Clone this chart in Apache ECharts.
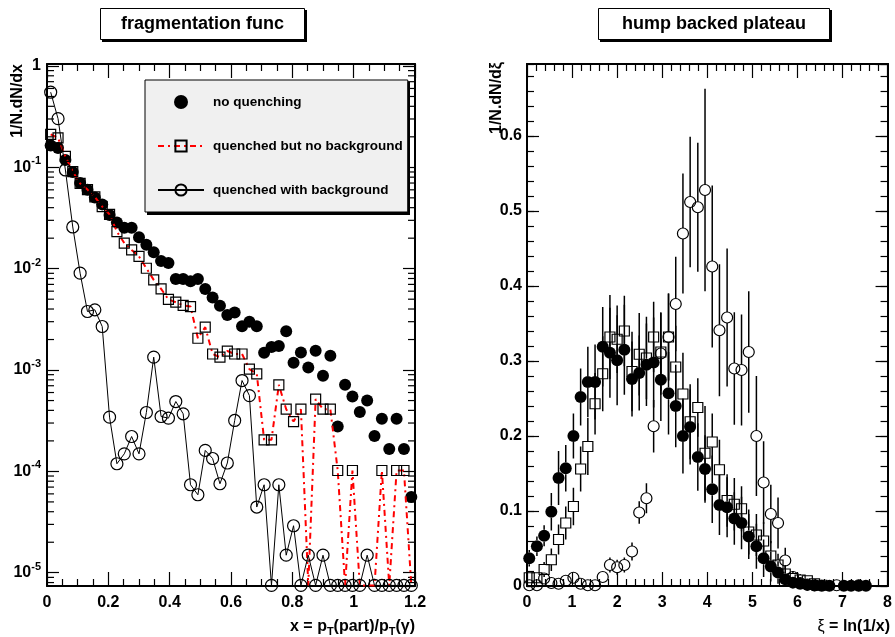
<!DOCTYPE html>
<html>
<head>
<meta charset="utf-8">
<script src="https://cdn.jsdelivr.net/npm/echarts@6/dist/echarts.min.js"></script>
<style>
  html, body { margin: 0; padding: 0; background: #fff; }
  #chart { width: 895px; height: 637px; }
</style>
</head>
<body>
<div id="chart"></div>
<script>
// ---- left pad: fragmentation function, bin centres in x = pT(part)/pT(gamma)
const fragX = [
  0.012, 0.036, 0.060, 0.084, 0.108, 0.132, 0.156, 0.180, 0.204, 0.228,
  0.252, 0.276, 0.300, 0.324, 0.348, 0.372, 0.396, 0.420, 0.444, 0.468,
  0.492, 0.516, 0.540, 0.564, 0.588, 0.612, 0.636, 0.660, 0.684, 0.708,
  0.732, 0.756, 0.780, 0.804, 0.828, 0.852, 0.876, 0.900, 0.924, 0.948,
  0.972, 0.996, 1.020, 1.044, 1.068, 1.092, 1.116, 1.140, 1.164, 1.188
]
const fragNoQuench = [
  0.164, 0.155, 0.118, 0.090, 0.070, 0.060, 0.0505, 0.0431, 0.0339, 0.0286,
  0.0253, 0.0253, 0.0204, 0.0172, 0.0145, 0.0119, 0.0114, 0.0079, 0.0079, 0.0075,
  0.0079, 0.0063, 0.0052, 0.0043, 0.0035, 0.0037, 0.0027, 0.0030, 0.0027, 0.00148,
  0.00169, 0.00173, 0.00241, 0.00118, 0.00149, 0.00106, 0.00155, 0.00088, 0.00138, 0.000277,
  0.000715, 0.000548, 0.000385, 0.00050, 0.000224, 0.00033, 0.000166, 0.00033, 0.000166, 0.000056
]
// 0 = empty bin
const fragQuenched = [
  0.211, 0.195, 0.128, 0.0907, 0.0694, 0.0603, 0.0511, 0.0410, 0.0343, 0.0232,
  0.0179, 0.0153, 0.0132, 0.0101, 0.00776, 0.00632, 0.00497, 0.00467, 0.00435, 0.00423,
  0.00206, 0.00265, 0.00144, 0.00134, 0.00154, 0.00144, 0.00144, 0.00102, 0.000918, 0.000205,
  0.000205, 0.000714, 0.000411, 0.00031, 0.000411, 0, 0.000516, 0.000411, 0.000411, 0.000102,
  0, 0.000102, 0, 0, 0, 0.000102, 0, 0.000102, 0.000102, 0
]
const fragQuenchedBkg = [
  0.551, 0.302, 0.0942, 0.0258, 0.00903, 0.00378, 0.00393, 0.00269, 0.000343, 0.000119,
  0.000149, 0.000221, 0.000149, 0.000381, 0.00134, 0.000348, 0.000335, 0.000489, 0.00037, 0.0000738,
  0.0000588, 0.000161, 0.000134, 0.0000755, 0.000121, 0.000318, 0.000788, 0.00056, 0.0000445, 0.0000738,
  0, 0.0000738, 0.0000149, 0.0000291, 0, 0.0000149, 0, 0.0000149, 0, 0,
  0, 0, 0, 0.0000149, 0, 0, 0, 0, 0, 0
]
const logMantissas = [2, 3, 4, 5, 6, 7, 8, 9]
const logDecades = [1e-5, 1e-4, 1e-3, 1e-2, 1e-1]
const logMinorTicks = [8e-6, 9e-6]
logDecades.forEach(d => logMantissas.forEach(m => logMinorTicks.push(m * d)))

// ---- right pad: hump backed plateau, xi = ln(1/x)
const xiX = [
  0.05, 0.22, 0.38, 0.54, 0.70, 0.86, 1.03, 1.19, 1.35, 1.51,
  1.68, 1.84, 2.00, 2.16, 2.33, 2.49, 2.65, 2.81, 2.97, 3.14,
  3.30, 3.46, 3.62, 3.79, 3.95, 4.11, 4.27, 4.44, 4.60, 4.76,
  4.92, 5.09, 5.25, 5.41, 5.57, 5.73, 5.90, 6.06, 6.22, 6.38,
  6.54, 6.71, 6.87, 7.03, 7.19, 7.36, 7.52
]
const humpNoQuench = [
  0.037, 0.053, 0.067, 0.099, 0.144, 0.157, 0.200, 0.252, 0.272, 0.272,
  0.319, 0.311, 0.301, 0.315, 0.276, 0.284, 0.295, 0.298, 0.275, 0.257,
  0.240, 0.200, 0.212, 0.172, 0.156, 0.129, 0.108, 0.105, 0.090, 0.084,
  0.066, 0.053, 0.037, 0.026, 0.018, 0.009, 0.0045, 0.003, 0.0015, 0.0008,
  0.0004, 0.0002, null, 0.0003, 0.0003, 0.0002, 0.0003
]
const humpNoQuenchErr = [
  0.011, 0.013, 0.014, 0.025, 0.036, 0.031, 0.030, 0.038, 0.047, 0.050,
  0.053, 0.060, 0.060, 0.060, 0.050, 0.050, 0.055, 0.060, 0.055, 0.055,
  0.055, 0.050, 0.050, 0.045, 0.045, 0.045, 0.040, 0.040, 0.035, 0.035,
  0.030, 0.030, 0.025, 0.020, 0.015, 0.010, 0.006, 0.004, 0.003, 0.002,
  0.001, 0.001, 0, 0.001, 0.001, 0.001, 0.001
]
const humpQuenched = [
  0.011, 0.011, 0.022, 0.035, 0.062, 0.084, 0.106, 0.156, 0.186, 0.243,
  0.283, 0.332, 0.329, 0.340, 0.286, 0.309, 0.304, 0.332, 0.312, 0.332,
  0.292, 0.256, 0.219, 0.238, 0.177, 0.192, 0.155, 0.114, 0.109, 0.103,
  0.072, 0.068, 0.060, 0.040, 0.028, 0.016, 0.010, 0.008, 0.007, 0.003,
  0.001, null, null, null, null, null, null
]
const humpQuenchedErr = [
  0.006, 0.006, 0.010, 0.015, 0.020, 0.022, 0.025, 0.030, 0.038, 0.041,
  0.050, 0.056, 0.045, 0.047, 0.053, 0.055, 0.055, 0.047, 0.052, 0.058,
  0.055, 0.055, 0.050, 0.039, 0.063, 0.038, 0.040, 0.035, 0.035, 0.030,
  0.030, 0.028, 0.025, 0.020, 0.015, 0.012, 0.010, 0.008, 0.006, 0.004,
  0.002, 0, 0, 0, 0, 0, 0
]
const humpQuenchedBkg = [
  0.001, 0.001, 0.010, 0.004, 0.003, 0.007, 0.011, 0.003, 0.001, 0.001,
  0.012, 0.028, 0.025, 0.028, 0.046, 0.098, 0.117, 0.213, 0.310, 0.332,
  0.376, 0.470, 0.512, 0.505, 0.528, 0.426, 0.341, 0.358, 0.290, 0.288,
  0.312, 0.200, 0.138, 0.096, 0.084, 0.034, 0.012, 0.004, 0.002, 0.001,
  null, null, 0.001, null, null, 0.001, null
]
const humpQuenchedBkgErr = [
  0.002, 0.002, 0.006, 0.004, 0.003, 0.005, 0.006, 0.003, 0.002, 0.002,
  0.006, 0.010, 0.010, 0.010, 0.012, 0.015, 0.020, 0.035, 0.055, 0.058,
  0.063, 0.080, 0.087, 0.086, 0.135, 0.108, 0.088, 0.092, 0.075, 0.074,
  0.081, 0.080, 0.055, 0.039, 0.034, 0.017, 0.005, 0.003, 0.002, 0.001,
  0, 0, 0.001, 0, 0, 0.001, 0
]

const FONT = '"Liberation Sans", Arial, Helvetica, sans-serif'
const LOG_MIN = 7.4e-6
const LOG_FLOOR = 7.5e-6   // empty bins are drawn on the bottom of the frame
const XI_MAX = 0.696

const chart = echarts.init(document.getElementById('chart'))

function frameAxis(o) {
  return Object.assign({
    axisLine: { show: true, onZero: false, lineStyle: { color: '#000', width: 2 } },
    axisTick: { show: true, inside: true, length: 14, lineStyle: { color: '#000', width: 1.2 } },
    splitLine: { show: false },
    axisLabel: { show: false }
  }, o)
}
const tickLabel = { show: true, color: '#000', fontFamily: FONT, fontWeight: 'bold', fontSize: 16 }

function logLabel(v) {
  const e = Math.round(Math.log10(v))
  return e === 0 ? '{b|1}' : '{b|10}{s|' + e + '}'
}

function pairs(xs, ys) {
  return xs.map((x, i) => [x, ys[i]]).filter(p => p[1] !== null)
}

// empty log bins: line drops to the frame, marker optional
function logPoints(ys, markEmpty) {
  return fragX.map((x, i) => {
    if (ys[i] > 0) return [x, ys[i]]
    return markEmpty ? [x, LOG_FLOOR] : { value: [x, LOG_FLOOR], symbol: 'none' }
  })
}

function errorBars(ys, errs, gap) {
  return {
    type: 'custom',
    xAxisIndex: 2,
    yAxisIndex: 2,
    clip: true,
    silent: true,
    z: 2,
    data: xiX.map((x, i) => [x, ys[i], errs[i]]).filter(p => p[1] !== null),
    renderItem: (params, api) => {
      const x = api.value(0), y = api.value(1), e = api.value(2)
      const mid = api.coord([x, y])
      const top = api.coord([x, y + e])
      const bot = api.coord([x, y - e])
      const kids = []
      if (top[1] < mid[1] - gap) {
        kids.push({ type: 'line', shape: { x1: mid[0], y1: top[1], x2: mid[0], y2: mid[1] - gap }, style: { stroke: '#000', lineWidth: 1.5 } })
      }
      if (bot[1] > mid[1] + gap) {
        kids.push({ type: 'line', shape: { x1: mid[0], y1: mid[1] + gap, x2: mid[0], y2: bot[1] }, style: { stroke: '#000', lineWidth: 1.5 } })
      }
      return { type: 'group', children: kids }
    }
  }
}

const boxText = { fontFamily: FONT, fontWeight: 'bold', fontSize: 18, color: '#000' }

const option = {
  animation: false,
  textStyle: { fontFamily: FONT },
  title: [
    {
      text: 'fragmentation func', left: 100, top: 8,
      padding: [7, 21, 7, 21],
      borderColor: '#000', borderWidth: 1, backgroundColor: '#fff',
      textStyle: boxText
    },
    {
      text: 'hump backed plateau', left: 598, top: 8,
      padding: [7, 24, 7, 24],
      borderColor: '#000', borderWidth: 1, backgroundColor: '#fff',
      textStyle: boxText
    }
  ],
  legend: {
    left: 145, top: 80,
    orient: 'vertical',
    padding: [15, 5, 15, 12],
    itemWidth: 46, itemHeight: 14, itemGap: 30,
    backgroundColor: '#f0f0f0',
    borderColor: '#000', borderWidth: 1,
    textStyle: { fontFamily: FONT, fontWeight: 'bold', fontSize: 13.5, color: '#000', padding: [0, 0, 0, 4] },
    data: ['no quenching', 'quenched but no background', 'quenched with background']
  },
  grid: [
    { left: 47, top: 64, width: 368, height: 522 },
    { left: 527, top: 64, width: 363, height: 522 }
  ],
  xAxis: [
    frameAxis({
      type: 'value', gridIndex: 0, position: 'bottom', min: 0, max: 1.2, interval: 0.2,
      minorTick: { show: true, splitNumber: 4, length: 7, lineStyle: { color: '#000', width: 1.2 } },
      axisLabel: Object.assign({}, tickLabel, { margin: 9, formatter: v => String(Math.round(v * 10) / 10) })
    }),
    frameAxis({
      type: 'value', gridIndex: 0, position: 'top', min: 0, max: 1.2, interval: 0.2,
      minorTick: { show: true, splitNumber: 4, length: 7, lineStyle: { color: '#000', width: 1.2 } }
    }),
    frameAxis({
      type: 'value', gridIndex: 1, position: 'bottom', min: 0, max: 8, interval: 1,
      minorTick: { show: true, splitNumber: 5, length: 7, lineStyle: { color: '#000', width: 1.2 } },
      axisLabel: Object.assign({}, tickLabel, { margin: 9 })
    }),
    frameAxis({
      type: 'value', gridIndex: 1, position: 'top', min: 0, max: 8, interval: 1,
      minorTick: { show: true, splitNumber: 5, length: 7, lineStyle: { color: '#000', width: 1.2 } }
    })
  ],
  yAxis: [
    frameAxis({
      type: 'log', logBase: 10, gridIndex: 0, position: 'left', min: LOG_MIN, max: 1.046,
      axisTick: { show: true, inside: true, length: 12, lineStyle: { color: '#000', width: 1.2 } },
      axisLabel: Object.assign({}, tickLabel, {
        margin: 6, showMinLabel: false, showMaxLabel: false, formatter: logLabel,
        rich: {
          b: { fontFamily: FONT, fontWeight: 'bold', fontSize: 16, color: '#000' },
          s: { fontFamily: FONT, fontWeight: 'bold', fontSize: 11, color: '#000', padding: [0, 0, 12, 0] }
        }
      })
    }),
    frameAxis({
      type: 'log', logBase: 10, gridIndex: 0, position: 'right', min: LOG_MIN, max: 1.046,
      axisTick: { show: true, inside: true, length: 12, lineStyle: { color: '#000', width: 1.2 } }
    }),
    frameAxis({
      type: 'value', gridIndex: 1, position: 'left', min: 0, max: XI_MAX, interval: 0.1,
      axisTick: { show: true, inside: true, length: 12, lineStyle: { color: '#000', width: 1.2 } },
      axisLabel: Object.assign({}, tickLabel, { margin: 5, showMaxLabel: false, formatter: v => v === 0 ? '0' : v.toFixed(1) })
    }),
    frameAxis({
      type: 'value', gridIndex: 1, position: 'left', min: 0, max: XI_MAX, interval: 0.02,
      axisTick: { show: true, inside: true, length: 7, lineStyle: { color: '#000', width: 1.2 } }
    }),
    frameAxis({
      type: 'value', gridIndex: 1, position: 'right', min: 0, max: XI_MAX, interval: 0.1,
      axisTick: { show: true, inside: true, length: 12, lineStyle: { color: '#000', width: 1.2 } }
    }),
    frameAxis({
      type: 'value', gridIndex: 1, position: 'right', min: 0, max: XI_MAX, interval: 0.02,
      axisTick: { show: true, inside: true, length: 7, lineStyle: { color: '#000', width: 1.2 } }
    })
  ],
  graphic: [
    // pave shadows (right / bottom edges)
    { type: 'rect', z: -1, shape: { x: 102, y: 10, width: 205, height: 32 }, style: { fill: '#000' } },
    { type: 'rect', z: -1, shape: { x: 600, y: 10, width: 232, height: 32 }, style: { fill: '#000' } },
    { type: 'rect', z: -1, shape: { x: 147, y: 82, width: 263, height: 133 }, style: { fill: '#000' } },
    {
      type: 'text', x: 18, y: 64, rotation: Math.PI / 2,
      style: { text: '1/N.dN/dx', font: 'bold 16px ' + FONT, fill: '#000', align: 'right', verticalAlign: 'middle', textAlign: 'right', textVerticalAlign: 'middle' }
    },
    {
      type: 'text', x: 497, y: 62, rotation: Math.PI / 2,
      style: { text: '1/N.dN/dξ', font: 'bold 16px ' + FONT, fill: '#000', align: 'right', verticalAlign: 'middle', textAlign: 'right', textVerticalAlign: 'middle' }
    },
    {
      type: 'text', x: 415, y: 627,
      style: {
        text: '{t|x = p}{d|T}{t|(part)/p}{d|T}{t|(γ)}', align: 'right', verticalAlign: 'middle', textAlign: 'right', textVerticalAlign: 'middle',
        rich: {
          t: { fontFamily: FONT, fontWeight: 'bold', fontSize: 16, fill: '#000', color: '#000' },
          d: { fontFamily: FONT, fontWeight: 'bold', fontSize: 11, fill: '#000', color: '#000', padding: [9, 0, 0, 0] }
        }
      }
    },
    {
      type: 'text', x: 890, y: 627,
      style: {
        text: '{g|ξ}{t| = ln(1/x)}', align: 'right', verticalAlign: 'middle', textAlign: 'right', textVerticalAlign: 'middle',
        rich: {
          g: { fontFamily: FONT, fontSize: 16, fill: '#000', color: '#000' },
          t: { fontFamily: FONT, fontWeight: 'bold', fontSize: 16, fill: '#000', color: '#000' }
        }
      }
    }
  ],
  series: [
    // left pad
    {
      type: 'custom', name: 'log minor ticks', xAxisIndex: 0, yAxisIndex: 0, silent: true,
      data: logMinorTicks.map(v => [0.6, v]),
      renderItem: (params, api) => {
        const y = api.coord([api.value(0), api.value(1)])[1]
        const cs = params.coordSys
        return {
          type: 'group',
          children: [
            { type: 'line', shape: { x1: cs.x, y1: y, x2: cs.x + 7, y2: y }, style: { stroke: '#000', lineWidth: 1.2 } },
            { type: 'line', shape: { x1: cs.x + cs.width, y1: y, x2: cs.x + cs.width - 7, y2: y }, style: { stroke: '#000', lineWidth: 1.2 } }
          ]
        }
      }
    },
    {
      name: 'no quenching', type: 'scatter', xAxisIndex: 0, yAxisIndex: 0, z: 2,
      symbol: 'circle', symbolSize: 12,
      itemStyle: { color: '#000', opacity: 1 },
      data: pairs(fragX, fragNoQuench)
    },
    {
      name: 'quenched but no background', type: 'line', xAxisIndex: 0, yAxisIndex: 0, z: 3,
      symbol: 'rect', symbolSize: 10, showAllSymbol: true,
      itemStyle: { color: 'rgba(0,0,0,0)', borderColor: '#000', borderWidth: 1.2, opacity: 1 },
      lineStyle: { color: '#ff0000', width: 2, type: [6, 4, 2, 4] },
      data: logPoints(fragQuenched, false)
    },
    {
      name: 'quenched with background', type: 'line', xAxisIndex: 0, yAxisIndex: 0, z: 4,
      symbol: 'circle', symbolSize: 12, showAllSymbol: true,
      itemStyle: { color: 'rgba(0,0,0,0)', borderColor: '#000', borderWidth: 1.2, opacity: 1 },
      lineStyle: { color: '#000', width: 1 },
      data: logPoints(fragQuenchedBkg, true)
    },
    // right pad
    errorBars(humpNoQuench, humpNoQuenchErr, 6),
    {
      name: 'no quenching xi', type: 'scatter', xAxisIndex: 2, yAxisIndex: 2, z: 3,
      symbol: 'circle', symbolSize: 12,
      itemStyle: { color: '#000', opacity: 1 },
      data: pairs(xiX, humpNoQuench)
    },
    errorBars(humpQuenched, humpQuenchedErr, 5),
    {
      name: 'quenched xi', type: 'scatter', xAxisIndex: 2, yAxisIndex: 2, z: 4,
      symbol: 'rect', symbolSize: 10,
      itemStyle: { color: 'rgba(0,0,0,0)', borderColor: '#000', borderWidth: 1.2, opacity: 1 },
      data: pairs(xiX, humpQuenched)
    },
    errorBars(humpQuenchedBkg, humpQuenchedBkgErr, 5.5),
    {
      name: 'quenched bkg xi', type: 'scatter', xAxisIndex: 2, yAxisIndex: 2, z: 5,
      symbol: 'circle', symbolSize: 11,
      itemStyle: { color: 'rgba(0,0,0,0)', borderColor: '#000', borderWidth: 1.2, opacity: 1 },
      data: pairs(xiX, humpQuenchedBkg)
    }
  ]
}

chart.setOption(option)
</script>
</body>
</html>
